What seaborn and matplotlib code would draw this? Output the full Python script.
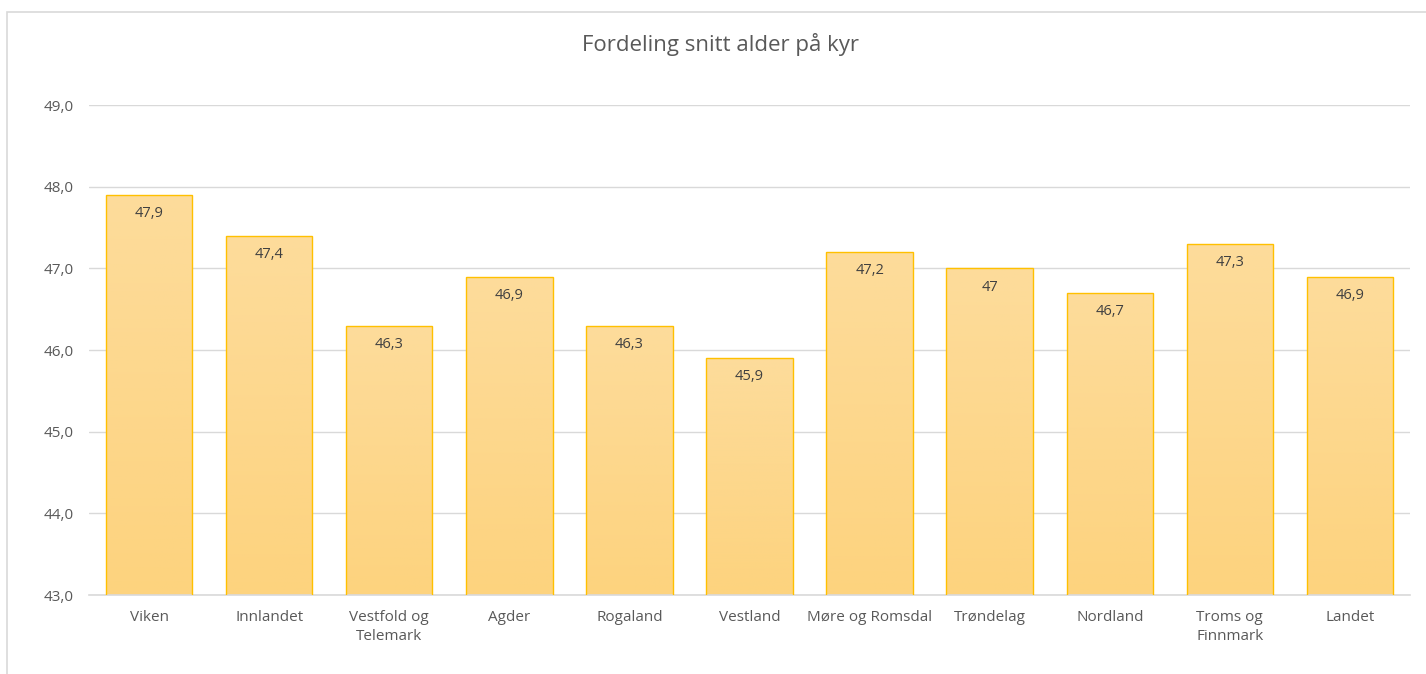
import numpy as np
import matplotlib
matplotlib.use("Agg")
import matplotlib.pyplot as plt
import matplotlib.patches as mpatches
import seaborn as sns
import pandas as pd

regions = ["Viken", "Innlandet", "Vestfold og\nTelemark", "Agder", "Rogaland",
           "Vestland", "Møre og Romsdal", "Trøndelag", "Nordland",
           "Troms og\nFinnmark", "Landet"]
avg_age = [47.9, 47.4, 46.3, 46.9, 46.3, 45.9, 47.2, 47.0, 46.7, 47.3, 46.9]
y_ticks = [43, 44, 45, 46, 47, 48, 49]

TEXT = "#595959"
GRID = "#D9D9D9"
EDGE = "#FFC000"

sns.set_theme(style="white")
plt.rcParams["font.family"] = ["Open Sans", "DejaVu Sans"]

df = pd.DataFrame({"region": regions, "age": avg_age})

fig = plt.figure(figsize=(14.26, 6.74), dpi=100)
ax = fig.add_axes([89 / 1426, 1 - 595 / 674, 1321 / 1426, 490 / 674])

sns.barplot(data=df, x="region", y="age", ax=ax, color="#FDD88C",
            width=0.72, edgecolor=EDGE, linewidth=1.0, zorder=2)
ax.set_ylim(43, 49)

# soft vertical gradient inside each bar, like the Excel fill
grad = np.linspace(0, 1, 256).reshape(-1, 1)
cmap = matplotlib.colors.LinearSegmentedColormap.from_list(
    "fill", ["#FDD37E", "#FDDC9B"])
for patch in ax.patches:
    x0, y0 = patch.get_x(), patch.get_y()
    w, h = patch.get_width(), patch.get_height()
    im = ax.imshow(grad, cmap=cmap, aspect="auto", origin="lower",
                   extent=[x0, x0 + w, 43, y0 + h], zorder=2.5)
    im.set_clip_path(patch)
    patch.set_facecolor("none")
    patch.set_zorder(3)

ax.set_xlim(-0.5, len(regions) - 0.5)
ax.set_ylim(43, 49)

for i, v in enumerate(avg_age):
    label = f"{v:.1f}".replace(".", ",") if v != int(v) else f"{int(v)}"
    ax.annotate(label, (i, v), xytext=(0, -13.5), textcoords="offset points",
                ha="center", va="center", fontsize=10.5, color="#404040",
                zorder=4)

ax.set_yticks(y_ticks)
ax.set_yticklabels([f"{t:.1f}".replace(".", ",") for t in y_ticks])
ax.yaxis.grid(True, color=GRID, linewidth=1.0, zorder=0)
ax.set_axisbelow(True)
ax.tick_params(axis="both", length=0, labelsize=11, colors=TEXT)
ax.tick_params(axis="x", pad=11)
ax.tick_params(axis="y", pad=11)
for lbl in ax.get_xticklabels():
    lbl.set_linespacing(1.35)
for s in ["top", "right", "left"]:
    ax.spines[s].set_visible(False)
ax.spines["bottom"].set_color(GRID)
ax.spines["bottom"].set_linewidth(1.2)
ax.set_xlabel("")
ax.set_ylabel("")

fig.text(721 / 1426, 1 - 44 / 674, "Fordeling snitt alder på kyr",
         ha="center", va="center", fontsize=16, color=TEXT)

border = mpatches.Rectangle((7 / 1426, -0.05), 1.05, 1 - 12 / 674 + 0.05,
                            transform=fig.transFigure, fill=False,
                            edgecolor=GRID, linewidth=1.2)
fig.patches.append(border)

fig.savefig("out.png", dpi=100)
